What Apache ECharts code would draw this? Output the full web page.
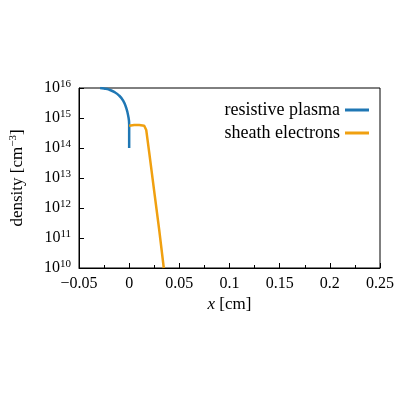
<!DOCTYPE html>
<html>
<head>
<meta charset="utf-8">
<script src="https://cdn.jsdelivr.net/npm/echarts@6/dist/echarts.min.js"></script>
<style>html,body{margin:0;padding:0;background:#fff}#main{width:400px;height:400px}</style>
</head>
<body>
<div id="main"></div>
<script>
// resistive plasma profile [x cm, density]
var plasmaX = [-0.029, -0.025, -0.02, -0.015, -0.01, -0.006, -0.003, -0.001, 0.0, 0.0];
var plasmaY = [1e16, 9.6e15, 8.8e15, 7.4e15, 5.6e15, 3.8e15, 2.2e15, 1.2e15, 6e14, 1e14];
// sheath electrons profile
var sheathX = [0.0, 0.005, 0.01, 0.015, 0.017, 0.02, 0.025, 0.03, 0.0345];
var sheathY = [5.5e14, 5.8e14, 5.8e14, 5.5e14, 4e14, 7e13, 3.5e12, 1.8e11, 1e10];
var xTicks = [-0.05, 0, 0.05, 0.1, 0.15, 0.2, 0.25];
var seriesNames = ['resistive plasma', 'sheath electrons'];

function zip(a, b) { return a.map(function(v, i) { return [v, b[i]]; }); }

var chart = echarts.init(document.getElementById('main'));
var font = 'Liberation Serif';
chart.setOption({
  animation: false,
  grid: { left: 78, right: 20, top: 88, bottom: 132, show: true, borderColor: '#000', borderWidth: 1 },
  legend: {
    right: 26, top: 96, orient: 'vertical', align: 'right', itemGap: 5,
    itemWidth: 24, itemHeight: 3, icon: 'rect',
    textStyle: { fontFamily: font, fontSize: 18, color: '#000' },
    data: seriesNames
  },
  xAxis: {
    type: 'value', min: -0.05, max: 0.25, interval: 0.05,
    name: '{i|x} [cm]', nameLocation: 'middle', nameGap: 28,
    nameTextStyle: { fontFamily: font, fontSize: 17, color: '#000', rich: { i: { fontStyle: 'italic', fontFamily: font, fontSize: 17 } } },
    axisLine: { onZero: false, lineStyle: { color: '#000' } },
    axisTick: { inside: true, length: 5, lineStyle: { color: '#000' } },
    minorTick: { show: true, splitNumber: 2, length: 3, lineStyle: { color: '#000' } },
    splitLine: { show: false },
    axisLabel: { fontFamily: font, fontSize: 16, color: '#000', formatter: function(v) {
      return (v < 0 ? '\u2212' : '') + String(Math.abs(+v.toFixed(2)));
    } }
  },
  yAxis: {
    type: 'log', min: 1e10, max: 1e16, logBase: 10,
    name: 'density [cm{s|\u22123}]', nameLocation: 'middle', nameGap: 52,
    nameTextStyle: { fontFamily: font, fontSize: 17, color: '#000', rich: { s: { fontSize: 11, verticalAlign: 'top', fontFamily: font, padding: [0, 0, 8, 0] } } },
    axisLine: { onZero: false, lineStyle: { color: '#000' } },
    axisTick: { inside: true, length: 5, lineStyle: { color: '#000' } },
    splitLine: { show: false },
    axisLabel: { fontFamily: font, fontSize: 16, color: '#000',
      formatter: function(v) { return '10{s|' + Math.round(Math.log10(v)) + '}'; },
      rich: { s: { fontSize: 11, fontFamily: font, verticalAlign: 'top', padding: [0, 0, 8, 0] } } }
  },
  series: [
    { name: seriesNames[0], type: 'line', data: zip(plasmaX, plasmaY), smooth: true, showSymbol: false,
      color: '#1f77b4', lineStyle: { width: 2.5, color: '#1f77b4' } },
    { name: seriesNames[1], type: 'line', data: zip(sheathX, sheathY), showSymbol: false,
      color: '#f0a010', lineStyle: { width: 2.5, color: '#f0a010' } }
  ]
});
</script>
</body>
</html>
